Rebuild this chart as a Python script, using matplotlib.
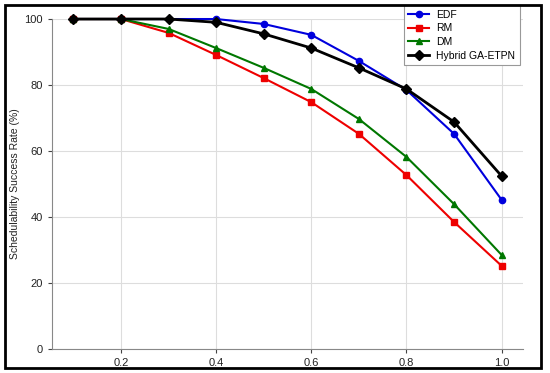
import matplotlib
matplotlib.use('Agg')
import matplotlib.pyplot as plt
from matplotlib.patches import Rectangle

plt.rcParams['font.family'] = ['Liberation Sans', 'DejaVu Sans']

utilisation = [0.1, 0.2, 0.3, 0.4, 0.5, 0.6, 0.7, 0.8, 0.9, 1.0]
edf = [100, 100, 100, 100, 98.5, 95.2, 87.3, 78.5, 65.2, 45.2]
rm = [100, 100, 95.8, 89.1, 82.1, 74.8, 65.2, 52.7, 38.5, 25.2]
dm = [100, 100, 97.0, 91.2, 85.2, 78.8, 69.7, 58.2, 43.9, 28.5]
hybrid = [100, 100, 100, 99.0, 95.5, 91.2, 85.2, 78.8, 68.8, 52.4]

fig = plt.figure(figsize=(5.5, 3.73), dpi=100)
ax = fig.add_axes([0.0945, 0.0643, 0.8565, 0.8847])

ax.plot(utilisation, edf, color='#0000dd', marker='o', markersize=4.5, linewidth=1.5, label='EDF', clip_on=False)
ax.plot(utilisation, rm, color='#ee0000', marker='s', markersize=4, linewidth=1.5, label='RM', clip_on=False)
ax.plot(utilisation, dm, color='#007700', marker='^', markersize=4.5, linewidth=1.5, label='DM', clip_on=False)
ax.plot(utilisation, hybrid, color='black', marker='D', markersize=5, linewidth=2, label='Hybrid GA-ETPN', clip_on=False)

ax.set_ylim(0, 100)
ax.set_xticks([0.2, 0.4, 0.6, 0.8, 1.0])
ax.set_yticks([0, 20, 40, 60, 80, 100])
ax.grid(True, color='#dddddd', linewidth=0.8)
ax.set_axisbelow(True)
for s in ['top', 'right']:
    ax.spines[s].set_visible(False)
for s in ['left', 'bottom']:
    ax.spines[s].set_color('#888888')
    ax.spines[s].set_linewidth(0.8)
ax.tick_params(labelsize=8, colors='#444444', length=3, width=0.8)
for lab in ax.get_xticklabels() + ax.get_yticklabels():
    lab.set_color('#222222')
ax.set_ylabel('Schedulability Success Rate (%)', fontsize=7.5, color='#222222')
ax.yaxis.set_label_coords(-0.068, 0.5)

leg = ax.legend(loc='upper right', bbox_to_anchor=(520 / 550, 1 - 5 / 373),
                bbox_transform=fig.transFigure, borderaxespad=0, fontsize=7.5,
                fancybox=False, framealpha=1, edgecolor='#999999',
                handlelength=2.0, handletextpad=0.7, labelspacing=0.35,
                borderpad=0.45)
leg.get_frame().set_linewidth(0.8)

fig.patches.append(Rectangle((5 / 550, 5 / 373), 536 / 550, 363 / 373,
                             transform=fig.transFigure, fill=False,
                             edgecolor='black', linewidth=2))

fig.savefig('out.png', dpi=100)
